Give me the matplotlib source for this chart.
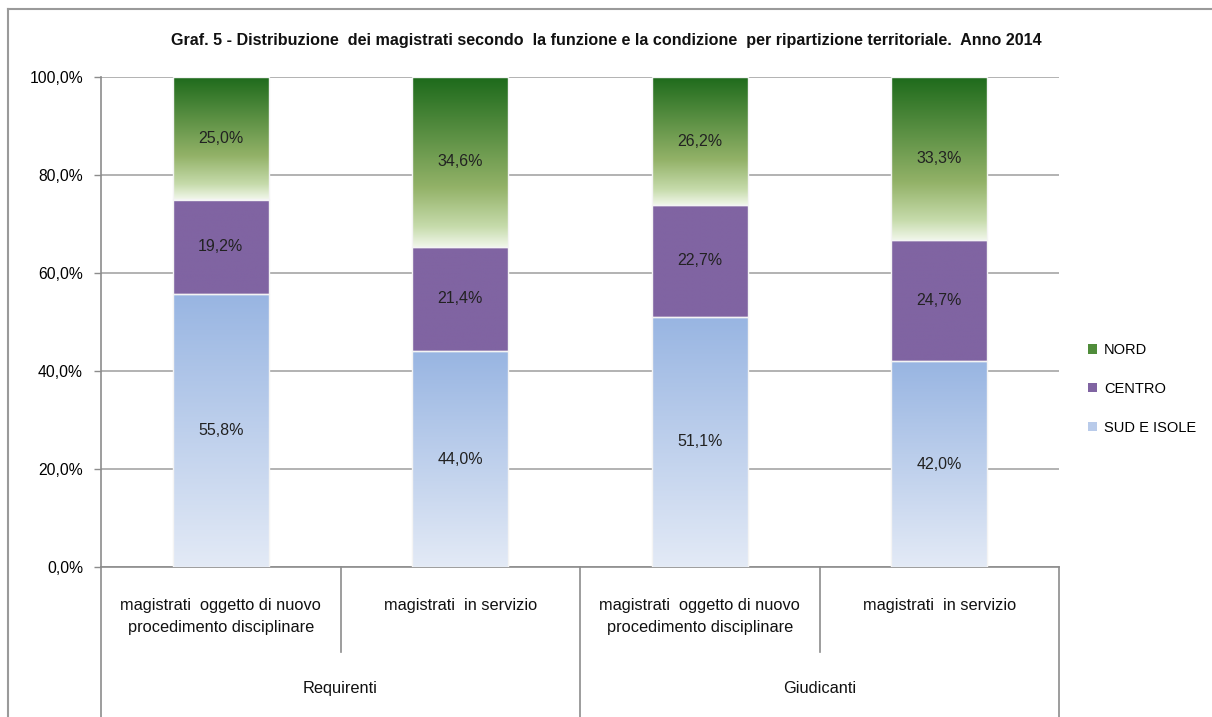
import numpy as np
import matplotlib
matplotlib.use('Agg')
from matplotlib import pyplot as plt
from matplotlib.colors import LinearSegmentedColormap
from matplotlib.lines import Line2D
from matplotlib.patches import Patch

plt.rcParams['font.family'] = ['Liberation Sans', 'DejaVu Sans']

# data (percent)
sub_labels = ['magistrati  oggetto di nuovo\nprocedimento disciplinare', 'magistrati  in servizio',
              'magistrati  oggetto di nuovo\nprocedimento disciplinare', 'magistrati  in servizio']
group_labels = ['Requirenti', 'Giudicanti']
series = ['SUD E ISOLE', 'CENTRO', 'NORD']
sud = [55.8, 44.0, 51.1, 42.0]
centro = [19.2, 21.4, 22.7, 24.7]
nord = [25.0, 34.6, 26.2, 33.3]
yticks = [0, 20, 40, 60, 80, 100]

# gradient colours, top -> bottom
cmaps = {
    'NORD': LinearSegmentedColormap.from_list(
        'nord', [(0, '#1d6a1b'), (0.65, '#93b268'), (0.88, '#c6dbab'), (1, '#f0f6e9')]),
    'CENTRO': LinearSegmentedColormap.from_list('centro', ['#8064a2', '#8064a2']),
    'SUD E ISOLE': LinearSegmentedColormap.from_list('sud', ['#98b5e2', '#e3eaf6']),
}
legend_col = {'NORD': '#4f8c3a', 'CENTRO': '#8064a2', 'SUD E ISOLE': '#b9cbea'}

W, H = 1212, 717
fig = plt.figure(figsize=(W / 100, H / 100), dpi=100)
ax = fig.add_axes([101 / W, (H - 567) / H, (1059 - 101) / W, 490 / H])

x = np.arange(len(sud))
grad = np.linspace(0, 1, 256).reshape(-1, 1)
bottom = np.zeros(len(x))
for name, vals in zip(series, [sud, centro, nord]):
    bars = ax.bar(x, vals, 0.4, bottom=bottom, color='none', edgecolor='none', zorder=3)
    for b in bars:
        x0, y0 = b.get_x(), b.get_y()
        im = ax.imshow(grad, extent=[x0, x0 + b.get_width(), y0, y0 + b.get_height()],
                       cmap=cmaps[name], aspect='auto', origin='upper', zorder=3)
        im.set_clip_path(b)
    ax.bar(x, vals, 0.4, bottom=bottom, color='none', edgecolor='#f4f4f4', linewidth=1.0, zorder=4)
    for xi, v, b0 in zip(x, vals, bottom):
        ax.text(xi, b0 + v / 2, f'{v:.1f}%'.replace('.', ','), ha='center', va='center',
                fontsize=11.5, color='#222222', zorder=5)
    bottom += np.array(vals)

ax.set_xlim(-0.5, 3.5)
ax.set_ylim(0, 100)
ax.set_yticks(yticks)
ax.set_yticklabels([f'{t:.1f}%'.replace('.', ',') for t in yticks], fontsize=11.3)
ax.yaxis.grid(True, color='#a6a6a6', linewidth=1.2, zorder=0)
ax.set_axisbelow(True)
ax.tick_params(axis='y', length=5, width=1, color='#8c8c8c', pad=8)
ax.set_xticks([])
for s in ['top', 'right']:
    ax.spines[s].set_visible(False)
for s in ['left', 'bottom']:
    ax.spines[s].set_color('#8c8c8c')
    ax.spines[s].set_linewidth(1.2)

# two-level category axis
tr = ax.get_xaxis_transform()
for xi, lab in enumerate(sub_labels):
    ax.text(xi, -0.064, lab, transform=tr, ha='center', va='top',
            fontsize=11.8, linespacing=1.55, color='#111111')
for gi, lab in enumerate(group_labels):
    ax.text(gi * 2 + 0.5, -0.247, lab, transform=tr, ha='center', va='center', fontsize=11.8,
            color='#111111')
for xs in [0.5, 2.5]:
    ax.add_line(Line2D([xs, xs], [0, -0.173], transform=tr, color='#8c8c8c', lw=1.2, clip_on=False))
for xs in [-0.5, 1.5, 3.5]:
    ax.add_line(Line2D([xs, xs], [0, -0.32], transform=tr, color='#8c8c8c', lw=1.2, clip_on=False))

# legend
handles = [Patch(facecolor=legend_col[n], edgecolor='none') for n in ['NORD', 'CENTRO', 'SUD E ISOLE']]
fig.legend(handles, ['NORD', 'CENTRO', 'SUD E ISOLE'], loc='center left',
           bbox_to_anchor=(1075 / W, 1 - 389 / H), frameon=False, fontsize=10.5,
           handlelength=0.6, handleheight=0.6, handletextpad=0.5, labelspacing=1.7)

fig.text(0.5, 1 - 41 / H, 'Graf. 5 - Distribuzione  dei magistrati secondo  la funzione e la condizione  '
         'per ripartizione territoriale.  Anno 2014', ha='center', va='center',
         fontsize=11.6, fontweight='bold', color='#111111')

# outer chart frame
fig.add_artist(Line2D([8 / W, 1], [1 - 9 / H, 1 - 9 / H], transform=fig.transFigure, color='#9a9a9a', lw=1.5))
fig.add_artist(Line2D([8 / W, 8 / W], [0, 1 - 9 / H], transform=fig.transFigure, color='#9a9a9a', lw=1.5))

fig.savefig('out.png', dpi=100)
